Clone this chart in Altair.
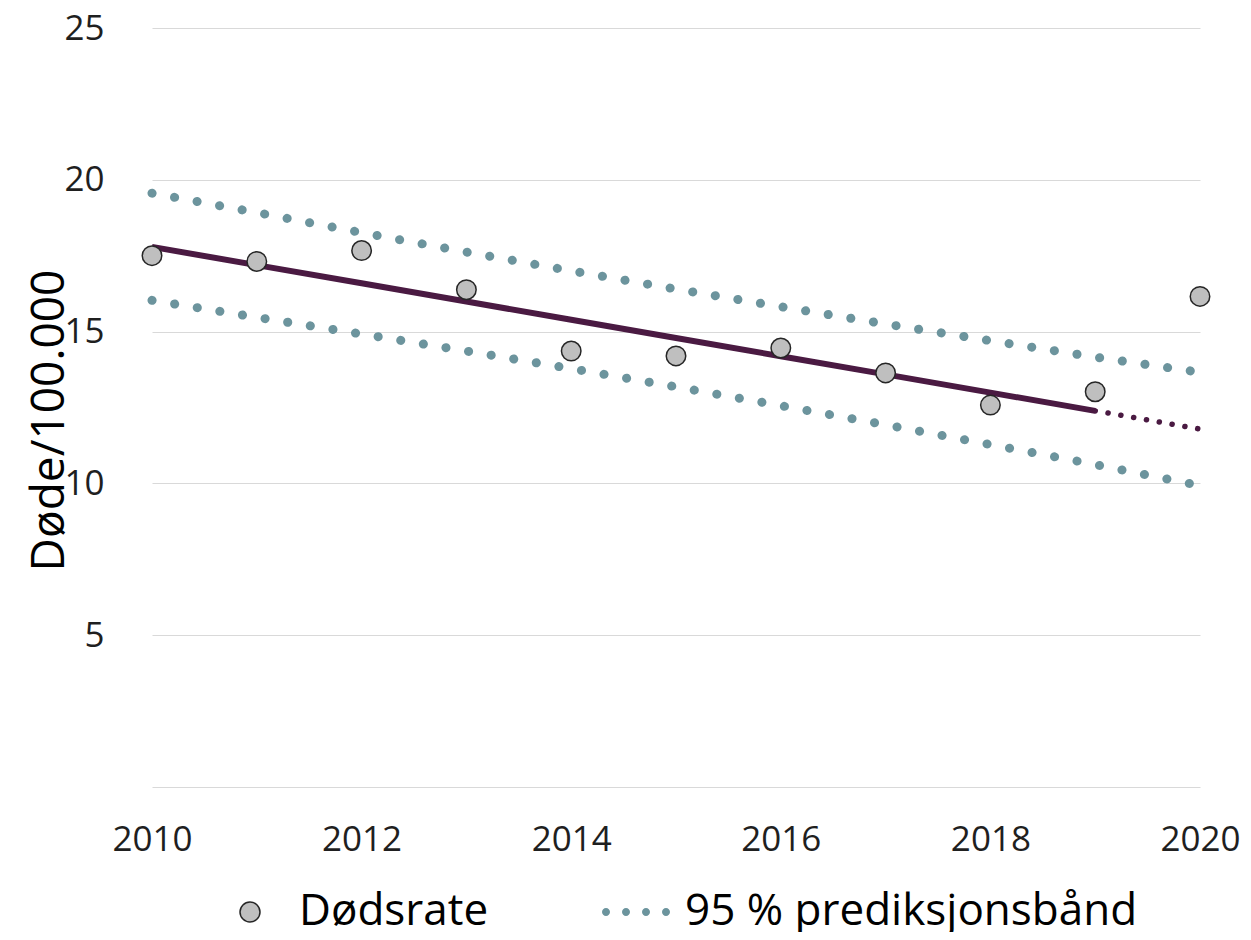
import altair as alt
import pandas as pd

years = [2010, 2011, 2012, 2013, 2014, 2015, 2016, 2017, 2018, 2019, 2020]
dodsrate = [17.50, 17.31, 17.67, 16.38, 14.36, 14.20, 14.46, 13.64, 12.58, 13.02, 16.16]
trend = [17.79, 17.19, 16.59, 15.99, 15.39, 14.79, 14.19, 13.59, 12.99, 12.39, 11.79]
upper = [19.56, 18.92, 18.26, 17.62, 17.00, 16.40, 15.82, 15.25, 14.70, 14.16, 13.66]
lower = [16.03, 15.47, 14.92, 14.36, 13.78, 13.18, 12.56, 11.93, 11.28, 10.62, 9.93]
series = ["Dødsrate", "95 % prediksjonsbånd"]
x_ticks = [2010, 2012, 2014, 2016, 2018, 2020]
y_ticks = [0, 5, 10, 15, 20, 25]

FONT = "Open Sans"
BAND = "#6c949d"
TREND = "#4a1a42"

df = pd.DataFrame({
    "year": years, "rate": dodsrate, "trend": trend,
    "upper": upper, "lower": lower, "serie": series[0],
})

xenc = alt.X("year:Q", scale=alt.Scale(domain=[2010, 2020], nice=False, zero=False),
             axis=alt.Axis(values=x_ticks, format="d", title=None, grid=False,
                           domain=False, ticks=False, labelFontSize=35,
                           labelPadding=35, labelColor="#1f1f1f", labelFont=FONT,
                           labelFlush=False))
yscale = alt.Scale(domain=[0, 25], nice=False, zero=True)
yaxis = alt.Axis(values=y_ticks, labelExpr="datum.value == 0 ? '' : datum.label",
                 title="Døde/100.000", titleFontSize=46, titleFont=FONT,
                 titleFontWeight="normal", titleColor="#000000",
                 titleX=-89, titleY=392, titleBaseline="alphabetic", titleAngle=270,
                 titleAlign="center", labelFontSize=35, labelFont=FONT,
                 labelColor="#1f1f1f", labelPadding=48, labelFlush=False, grid=True,
                 gridColor="#d9d9d9", gridWidth=1.2, domain=False, ticks=False)

base = alt.Chart(df)

up_line = base.mark_line(color=BAND, strokeWidth=9, strokeCap="round",
                         strokeDash=[0.1, 22.8]).encode(
    x=xenc, y=alt.Y("upper:Q", scale=yscale, axis=yaxis))
low_line = base.mark_line(color=BAND, strokeWidth=9, strokeCap="round",
                          strokeDash=[0.1, 22.8]).encode(
    x=xenc, y=alt.Y("lower:Q", scale=yscale))
trend_solid = base.transform_filter(alt.datum.year <= 2019).mark_line(
    color=TREND, strokeWidth=6).encode(x=xenc, y=alt.Y("trend:Q", scale=yscale))
trend_dot = base.transform_filter(alt.datum.year >= 2019).mark_line(
    color=TREND, strokeWidth=5.5, strokeCap="round", strokeDash=[0.1, 12.9]).encode(
    x=xenc, y=alt.Y("trend:Q", scale=yscale))

DOTS = ("M -3.4 0 A 0.4 0.4 0 1 0 -2.6 0 A 0.4 0.4 0 1 0 -3.4 0 Z "
        "M -1.4 0 A 0.4 0.4 0 1 0 -0.6 0 A 0.4 0.4 0 1 0 -1.4 0 Z "
        "M 0.6 0 A 0.4 0.4 0 1 0 1.4 0 A 0.4 0.4 0 1 0 0.6 0 Z "
        "M 2.6 0 A 0.4 0.4 0 1 0 3.4 0 A 0.4 0.4 0 1 0 2.6 0 Z")

leg = alt.Legend(title=None, orient="none", legendX=76, legendY=862,
                 direction="horizontal", labelFontSize=44, labelFont=FONT,
                 labelColor="#000000", symbolSize=400, symbolStrokeWidth=1.5,
                 labelOffset=27, columnPadding=110, labelBaseline="middle",
                 labelLimit=0)

points = base.mark_point(filled=True, size=380, strokeWidth=1.5, opacity=1).encode(
    x=xenc, y=alt.Y("rate:Q", scale=yscale),
    fill=alt.Fill("serie:N", scale=alt.Scale(domain=series, range=["#bfbfbf", BAND]), legend=leg),
    stroke=alt.Stroke("serie:N", scale=alt.Scale(domain=series, range=["#262626", "transparent"]), legend=leg),
    shape=alt.Shape("serie:N", scale=alt.Scale(domain=series, range=["circle", DOTS]), legend=leg),
)

chart = alt.layer(up_line, low_line, trend_solid, trend_dot, points).properties(
    width=1048, height=759,
    background="white",
    autosize=alt.AutoSizeParams(type="none"),
    padding={"left": 144, "top": 20, "right": 40, "bottom": 145},
).configure_view(strokeWidth=0, stroke="transparent")

chart.save("out.html", embed_options={"renderer": "svg", "actions": False})
